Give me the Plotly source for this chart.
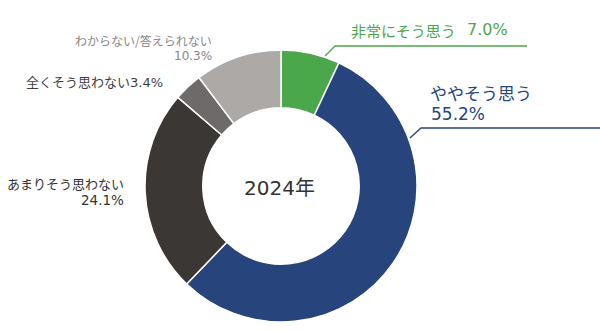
import plotly.graph_objects as go

# Survey answers, in clockwise order from 12 o'clock
categories = ["非常にそう思う", "ややそう思う", "あまりそう思わない", "全くそう思わない", "わからない/答えられない"]
shares = [7.0, 55.2, 24.1, 3.4, 10.3]
colors = ["#4ba84a", "#27457c", "#3b3735", "#6e6a69", "#aca9a7"]
center_label = "2024年"

W, H = 600, 330
FONT = "DejaVu Sans, Noto Sans CJK JP"
JP = "Noto Sans CJK JP"


def px(x):
    return x / W


def py(y):
    return 1 - y / H


def pct(v):
    return f"{v:.1f}%"


# ring placed in a 272px square box
box_l, box_r, box_t, box_b = 145, 417, 50, 322

fig = go.Figure(
    go.Pie(
        labels=categories,
        values=shares,
        sort=False,
        direction="clockwise",
        rotation=0,
        hole=0.575,
        marker=dict(colors=colors, line=dict(color="white", width=1.5)),
        textinfo="none",
        hoverinfo="label+percent",
        domain=dict(x=[px(box_l), px(box_r)], y=[py(box_b), py(box_t)]),
        showlegend=False,
    )
)


def label(text, x, y, size, color, anchor="left", family=FONT):
    return dict(
        text=text, x=px(x), y=py(y), xref="paper", yref="paper",
        xanchor=anchor, yanchor="middle", showarrow=False,
        font=dict(family=family, size=size, color=color),
    )


green, blue = "#4ba84a", "#27457c"
annotations = [
    label(center_label, 279, 188, 20, "#333333", anchor="center"),
    # 非常にそう思う
    label(f"{categories[0]}", 349, 30, 15, green, family=JP),
    label(pct(shares[0]), 465, 29, 16, green),
    # ややそう思う
    label(categories[1], 428, 93, 17, blue, family=JP),
    label(pct(shares[1]), 429, 114, 17, blue),
    # わからない/答えられない
    label(categories[4], 214, 40, 12, "#8a8786", anchor="right", family=JP),
    label(pct(shares[4]), 214, 56, 12, "#8a8786", anchor="right"),
    # 全くそう思わない
    label(f"{categories[3]}{pct(shares[3])}", 165, 82, 13, "#3f3f3f", anchor="right"),
    # あまりそう思わない
    label(categories[2], 126, 183, 13, "#333333", anchor="right", family=JP),
    label(pct(shares[2]), 126, 200, 13.5, "#333333", anchor="right"),
]

# leader lines
leaders = [
    ([325, 335, 527], [56, 46, 46], green),
    ([410, 421, 600], [138, 128, 128], blue),
]
shapes = []
for xs, ys, c in leaders:
    path = "M " + " L ".join(f"{px(x)},{py(y)}" for x, y in zip(xs, ys))
    shapes.append(dict(type="path", path=path, xref="paper", yref="paper",
                       line=dict(color=c, width=1.3)))

fig.update_layout(
    width=W, height=H,
    margin=dict(l=0, r=0, t=0, b=0),
    paper_bgcolor="white",
    plot_bgcolor="white",
    annotations=annotations,
    shapes=shapes,
    font=dict(family=FONT),
)

fig.write_html("out.html")
